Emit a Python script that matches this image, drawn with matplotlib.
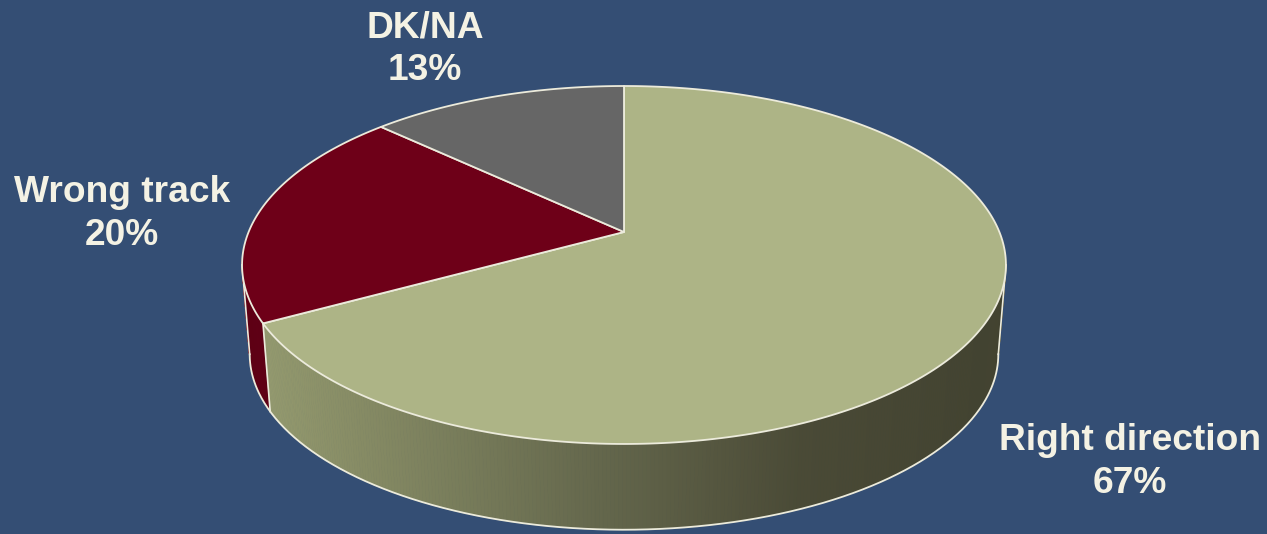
import numpy as np
import matplotlib
matplotlib.use("Agg")
import matplotlib.pyplot as plt
from matplotlib.patches import Polygon

# ---- data ----
categories = ["Right direction", "Wrong track", "DK/NA"]
values = [67, 20, 13]
pct_labels = ["67%", "20%", "13%"]

# ---- style / layout ----
W, H = 1267, 534
BG = "#344E74"
top_colors = ["#ADB486", "#6E0018", "#666666"]
# side gradient stops (screen x -> rgb)
side_stops = {
    0: [(250, (150, 156, 112)), (600, (100, 103, 76)), (800, (74, 74, 54)), (1010, (66, 66, 48))],
    1: [(240, (92, 0, 20)), (300, (100, 0, 22))],
    2: [(240, (80, 80, 80)), (1010, (80, 80, 80))],
}
EDGE = "#ECEBDC"
TXT = "#F4F2E4"
label_pos = [(1130, 450, 493), (122, 202, 245), (425, 38, 80)]  # x, baseline1, baseline2

# projection parameters (perspective ellipse)
CX, Y0, A, B, K = 624.0, 232.0, 375.4, 172.9, 0.1843
SB, DY = 0.98, 90.0


def proj(t, bottom=False):
    """t: angle in degrees clockwise from 12 o'clock on the pie plane."""
    r = np.radians(t)
    u, v = np.sin(r), np.cos(r)
    s = SB if bottom else 1.0
    y0 = Y0 + (DY if bottom else 0.0)
    d = 1 + K * v
    return np.stack([CX + s * A * u / d, y0 - s * B * v / d], axis=-1)


def side_color(i, x):
    st = side_stops[i]
    xs = [p[0] for p in st]
    cols = np.array([p[1] for p in st], float)
    c = [np.interp(x, xs, cols[:, j]) for j in range(3)]
    return tuple(np.array(c) / 255.0)


fig = plt.figure(figsize=(W / 100, H / 100), dpi=100)
fig.patch.set_facecolor(BG)
ax = fig.add_axes([0, 0, 1, 1])
ax.set_xlim(0, W)
ax.set_ylim(H, 0)
ax.axis("off")
ax.set_facecolor(BG)

frac = np.array(values, float) / np.sum(values)
bounds = np.concatenate([[0], np.cumsum(frac) * 360.0])

# ---- side walls (quads, back to front) ----
for i in range(len(values)):
    t0, t1 = bounds[i], bounds[i + 1]
    ts = np.linspace(t0, t1, max(int((t1 - t0) / 0.5), 2) + 1)
    for a, b in zip(ts[:-1], ts[1:]):
        pts = np.array([proj(a), proj(b), proj(b, True), proj(a, True)])
        col = side_color(i, pts[:, 0].mean())
        v = np.cos(np.radians((a + b) / 2))
        ax.add_patch(Polygon(pts, closed=True, facecolor=col, edgecolor=col,
                             lw=0.6, zorder=2 - v))

# ---- silhouettes and bottom rim ----
tt = np.linspace(0, 360, 3601)
mid = (proj(tt) + proj(tt, True)) / 2
tR = tt[np.argmax(mid[:, 0])]
tL = tt[np.argmin(mid[:, 0])]
rim = proj(np.linspace(tR, tL, 400), True)
ax.plot(rim[:, 0], rim[:, 1], color=EDGE, lw=1.3, zorder=5)
for t in (tR, tL, bounds[1]):
    p = np.array([proj(t), proj(t, True)])
    ax.plot(p[:, 0], p[:, 1], color=EDGE, lw=1.2, zorder=5)

# ---- top faces ----
center = np.array([CX, Y0])
for i in range(len(values)):
    t0, t1 = bounds[i], bounds[i + 1]
    arc = proj(np.linspace(t0, t1, 300))
    pts = np.vstack([center, arc])
    ax.add_patch(Polygon(pts, closed=True, facecolor=top_colors[i], edgecolor=EDGE,
                         lw=1.3, joinstyle="round", zorder=10))

# ---- labels ----
for name, pct, (x, b1, b2) in zip(categories, pct_labels, label_pos):
    kw = dict(ha="center", va="baseline", color=TXT, fontsize=26.7,
              fontweight="bold", family=["Liberation Sans", "DejaVu Sans"], zorder=20)
    ax.text(x, b1, name, **kw)
    ax.text(x, b2, pct, **kw)

fig.savefig("out.png", dpi=100, facecolor=BG)
